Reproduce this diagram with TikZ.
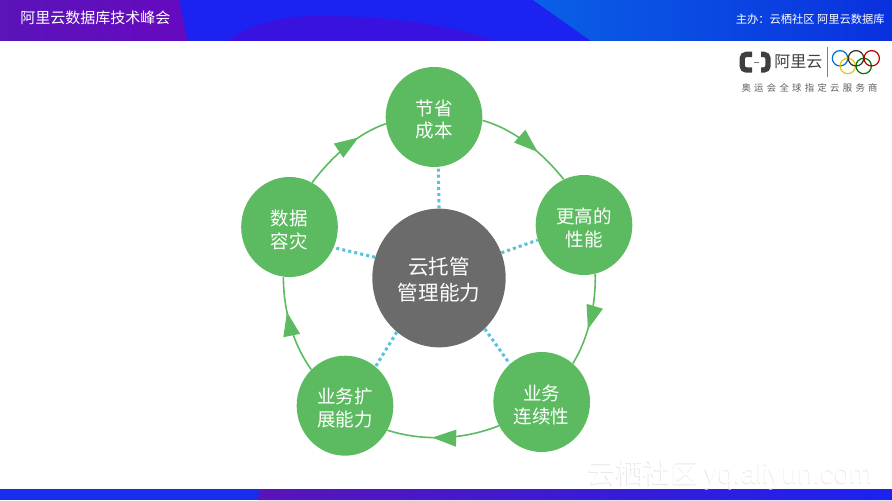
\documentclass[tikz,border=0pt]{standalone}
\usepackage{fontspec}
\setmainfont{Noto Sans CJK SC}
\setsansfont{Liberation Sans}
\usetikzlibrary{shapes.geometric,arrows.meta,decorations.markings}
\definecolor{gn}{HTML}{5CBB60}
\definecolor{gy}{HTML}{6B6B6B}
\definecolor{dotc}{HTML}{5CC0E0}
\definecolor{purp}{HTML}{6A08BE}
\definecolor{purd}{HTML}{5A14B8}
\definecolor{blu}{HTML}{1C22F0}
\definecolor{blr}{HTML}{0A60E6}
\definecolor{bld}{HTML}{0A30DE}
\definecolor{midp}{HTML}{3A12E0}
\definecolor{ink}{HTML}{3F3F3F}
\tikzset{
  sat/.style={ellipse,fill=gn,minimum width=72.5pt,minimum height=75pt,inner sep=0pt,text=white,align=center,font=\fontsize{13.9}{17.2}\selectfont},
  hub/.style={ellipse,fill=gy,minimum width=100pt,minimum height=104pt,inner sep=0pt,text=white,align=center,font=\fontsize{15.4}{19.5}\selectfont},
  spoke/.style={dotc,line width=2.3pt,dash pattern=on 2.3pt off 2.3pt},
  arc/.style={gn,line width=1.2pt,looseness=0.85,
    postaction={decorate,decoration={markings,mark=at position #1 with {\arrow[gn]{Triangle[length=18pt,width=12.5pt]}}}}},
  oring/.style={draw=#1,line width=0.9pt,fill=none},
  hdr/.style={text=white,inner sep=0pt},
  logo/.style={text=ink,inner sep=0pt}
}
\newcommand{\firstline}[1]{\rule{0pt}{#1}}
\begin{document}
\begin{tikzpicture}[x=0.75pt,y=0.75pt]
\useasboundingbox (0,0) rectangle (892,500);
% header
\fill[blu] (0,459) rectangle (892,500);
\fill[midp] (227,459) .. controls (255,478) and (285,484) .. (318,484) .. controls (390,484) and (450,475) .. (494,459) -- cycle;
\shade[left color=blr,right color=bld] (533,500) -- (892,500) -- (892,459) -- (591,459) -- cycle;
\shade[left color=purd,right color=purp!95!blu] (0,459) -- (187.5,459) -- (179,500) -- (0,500) -- cycle;
\node[hdr,font=\fontsize{11.25}{13}\selectfont,anchor=west] (title) at (20,482) {阿里云数据库技术峰会};
\node[hdr,font=\fontsize{8.45}{10}\selectfont,anchor=east] (host) at (885,481) {主办：云栖社区 阿里云数据库};
% footer
\fill[blu!80!blr] (0,0) rectangle (260,11);
\shade[left color=purd,right color=blu] (258,0) -- (892,0) -- (892,11) -- (260,11) -- cycle;
% logo
\node[logo,font=\fontsize{12}{14}\selectfont,anchor=west] (lt) at (774,438) {阿里云};
\draw[ink,line width=4pt,rounded corners=3pt] (752,445.6) -- (742.2,445.6) -- (742.2,430) -- (752,430);
\draw[ink,line width=4pt,rounded corners=3pt] (761,445.6) -- (768,445.6) -- (768,430) -- (761,430);
\draw[ink!70,line width=0.7pt] (753.5,437.8) -- (758.5,437.8);
\draw[gray,line width=0.6pt] (827,453) -- (827,423);
\draw[oring=blue!45!cyan!80!black] (840,441.7) circle (7.7);
\draw[oring=yellow!70!orange!90!black] (847.7,434) circle (7.7);
\draw[oring=black!80] (856,441.7) circle (7.7);
\draw[oring=green!45!black] (863.7,434) circle (7.7);
\draw[oring=red!70!black] (871.7,441.7) circle (7.7);
\node[logo,text=ink!85,font=\fontsize{7}{8}\selectfont,anchor=center] (ls) at (809.5,412.3) {奥\hspace{2.5pt}运\hspace{2.5pt}会\hspace{2.5pt}全\hspace{2.5pt}球\hspace{2.5pt}指\hspace{2.5pt}定\hspace{2.5pt}云\hspace{2.5pt}服\hspace{2.5pt}务\hspace{2.5pt}商};
% watermark
\node[inner sep=0pt,text=black!9,anchor=west,font=\fontsize{20.6}{22}\selectfont] (wms) at (587.7,24.5) {云栖社区 \sffamily yq.aliyun.com};
\node[inner sep=0pt,text=white,anchor=west,font=\fontsize{20.6}{22}\selectfont] (wm) at (588.3,25.2) {云栖社区 \sffamily yq.aliyun.com};
% nodes
\node[hub] (c) at (439,222) {\firstline{15.5pt}云托管\\管理能力};
\node[sat] (t) at (434,383) {\firstline{15.5pt}节省\\成本};
\node[sat] (r) at (584,275) {\firstline{15.5pt}更高的\\性能};
\node[sat] (br) at (541.7,98) {\firstline{15.5pt}业务\\连续性};
\node[sat] (bl) at (345,94.3) {\firstline{15.5pt}业务扩\\展能力};
\node[sat] (l) at (289.5,273) {\firstline{15.5pt}数据\\容灾};
% spokes
\draw[spoke] (c.90) -- (t.-85);
\draw[spoke] (c.22) -- (r.198);
\draw[spoke] (c.-48) -- (br.130);
\draw[spoke] (c.-128) -- (bl.52);
\draw[spoke] (c.162) -- (l.-25);
% ring arcs
\draw[arc=0.68] (l.63.9) to[out=52.6,in=198.8] (t.188);
\draw[arc=0.63] (t.-4.8) to[out=-15.7,in=128.7] (r.114);
\draw[arc=0.6] (r.-77.6) to[out=-89,in=58.6] (br.51.8);
\draw[arc=0.6] (br.209.8) to[out=-158,in=-18] (bl.-30.5);
\draw[arc=0.64] (bl.133.6) to[out=126,in=270] (l.-97.4);
\end{tikzpicture}
\end{document}
